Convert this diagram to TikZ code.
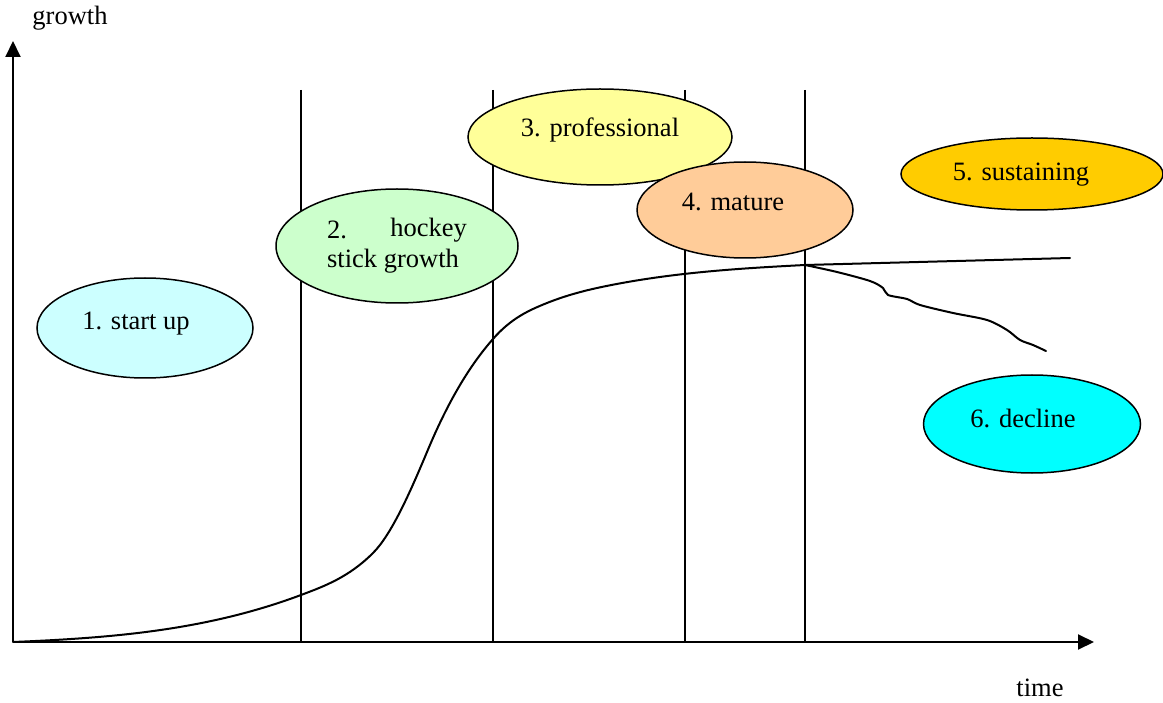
\documentclass[tikz,border=0pt]{standalone}
\usepackage{fontspec}
\setmainfont{Liberation Serif}
\usetikzlibrary{shapes.geometric,arrows.meta}
\definecolor{cStart}{HTML}{CCFFFF}
\definecolor{cHockey}{HTML}{CCFFCC}
\definecolor{cProf}{HTML}{FFFF99}
\definecolor{cMature}{HTML}{FFCC99}
\definecolor{cSustain}{HTML}{FFCC00}
\definecolor{cDecline}{HTML}{00FFFF}
\begin{document}
\begin{tikzpicture}[x=1pt,y=-1pt,
  axis/.style={line width=2pt,-{Triangle[length=16pt,width=15pt]}},
  divider/.style={line width=1.6pt},
  phase/.style={ellipse,draw,line width=1.5pt,inner sep=0pt},
  lbl/.style={font=\fontsize{26.5}{31}\selectfont,inner sep=0pt},
  growthline/.style={line width=2pt,line join=round,line cap=round}]
\useasboundingbox (0,0) rectangle (1163,703);

% axes
\coordinate (o) at (13,642);
\coordinate (ytop) at (13,41);
\coordinate (xend) at (1094,642);
\draw[axis] (o) -- (ytop);
\draw[axis] (o) -- (xend);
\node[lbl] (ylab) at (70,18) {growth};
\node[lbl] (xlab) at (1040,688) {time};

% phase dividers
\foreach \x/\n in {301/a,493/b,685/c,805/d}{
  \coordinate (d\n top) at (\x,90);
  \coordinate (d\n bot) at (\x,642);
  \draw[divider] (d\n top) -- (d\n bot);
}

% phases
\node[phase,fill=cStart,minimum width=216pt,minimum height=100pt] (e1) at (145,328) {};
\node[phase,fill=cHockey,minimum width=242pt,minimum height=114pt] (e2) at (397,246) {};
\node[phase,fill=cProf,minimum width=264pt,minimum height=96pt] (e3) at (600,137) {};
\node[phase,fill=cMature,minimum width=216pt,minimum height=96pt] (e4) at (745,210) {};
\node[phase,fill=cSustain,minimum width=262pt,minimum height=72pt] (e5) at (1032,174) {};
\node[phase,fill=cDecline,minimum width=217pt,minimum height=98pt] (e6) at (1032,424) {};

\node[lbl] (t1) at (136,324) {1. start up};
\node[lbl,anchor=west] (t2a) at (327,230) {2.};
\node[lbl,anchor=east] (t2b) at (467,230) {hockey};
\node[lbl] (t2c) at (393,261) {stick growth};
\node[lbl] (t3) at (600,130) {3. professional};
\node[lbl] (t4) at (733,202) {4. mature};
\node[lbl] (t5) at (1021,175) {5. sustaining};
\node[lbl] (t6) at (1023,418) {6. decline};

% growth curve: slow start, steep rise, levelling off
\coordinate (peak) at (805,265);
\draw[growthline] (o)
  .. controls (109,638) and (205,631) .. (301,595)
  .. controls (325,586) and (349,577) .. (373,553)
  .. controls (391,535) and (409,495) .. (427,452)
  .. controls (449,399) and (471,364) .. (493,339)
  .. controls (511,318.3) and (529,310.2) .. (547,303)
  .. controls (563.7,296.3) and (580.3,291.7) .. (597,288)
  .. controls (666,273) and (736,268.5) .. (peak);
\coordinate (sustainend) at (1070,258);
\draw[growthline] (peak) -- (sustainend);
\draw[growthline] plot[smooth,tension=0.5] coordinates {
  (805,265) (837,272) (870,281) (883,288) (888,295) (907,299)
  (920,305) (953,313) (987,320) (1007,330) (1020,340) (1033,345) (1046,351)};
\end{tikzpicture}
\end{document}
